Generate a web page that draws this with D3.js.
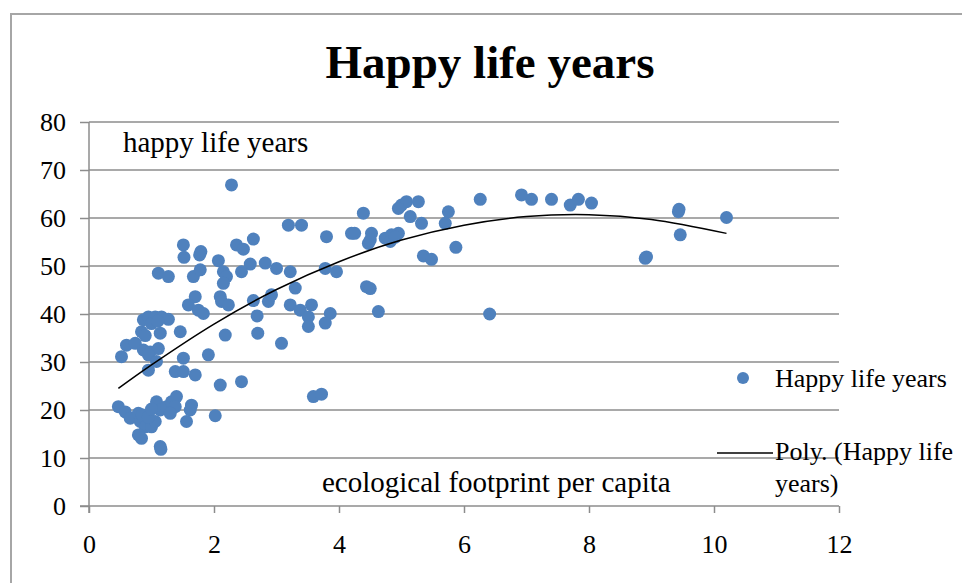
<!DOCTYPE html>
<html><head><meta charset="utf-8">
<script src="https://cdn.jsdelivr.net/npm/d3@7"></script>
<style>html,body{margin:0;padding:0;background:#fff;}svg{display:block;font-family:"Liberation Serif","Times New Roman",serif;}</style>
</head><body><svg id="c" width="962" height="583"></svg>
<script>
const title = "Happy life years";
const seriesName = "Happy life years";
const trendName = ["Poly. (Happy life", "years)"];
const yLabel = "happy life years";
const xLabel = "ecological footprint per capita";
const xTicks = [0, 2, 4, 6, 8, 10, 12];
const yTicks = [0, 10, 20, 30, 40, 50, 60, 70, 80];

// ecological footprint per capita (x) and happy life years (y)
const footprint = [
 0.47,0.58,0.66,0.79,0.82,0.92,1.08,1.14,1.24,1.32,1.40,1.38,1.30,1.64,1.62,1.56,2.02,0.90,1.00,0.79,0.84,1.06,1.14,1.15,2.10,2.44,3.59,3.72,0.85,0.95,1.00,
 0.60,0.74,0.52,0.87,0.98,1.11,0.95,1.08,0.95,1.51,1.38,1.51,1.70,1.91,0.84,1.14,1.46,0.87,0.95,1.06,1.16,1.27,1.00,1.10,0.90,
 1.51,1.52,1.79,1.77,2.36,2.47,2.63,2.07,2.58,1.11,1.27,1.67,1.78,2.15,2.20,2.15,2.44,1.70,1.59,1.75,2.10,2.12,2.23,2.63,2.69,2.18,2.70,1.83,2.28,2.82,2.87,2.92,
 3.19,3.40,3.80,3.00,3.22,3.78,3.96,3.30,3.22,3.38,3.56,3.51,3.51,3.86,3.78,3.08,
 4.39,4.20,4.25,4.52,4.47,4.50,4.44,4.50,4.63,4.74,4.84,4.95,4.82,5.00,5.08,5.27,4.95,5.14,5.75,5.70,5.32,5.35,5.48,5.87,4.90,
 6.26,6.92,7.08,7.40,7.70,7.83,8.04,6.41,8.90,8.92,9.43,9.44,9.46,10.20
];
const happyYears = [
 20.7,19.6,18.3,19.3,17.6,17.9,21.7,20.0,20.7,21.7,22.8,20.7,19.3,21.0,20.0,17.6,18.8,16.5,16.5,14.8,14.1,17.6,12.4,11.8,25.2,25.9,22.8,23.3,19.0,18.5,20.2,
 33.5,33.9,31.1,32.5,32.1,32.8,31.5,30.1,28.3,30.8,28.0,28.0,27.3,31.5,36.3,36.0,36.3,38.8,39.4,39.4,39.4,38.9,38.0,38.5,35.5,
 54.4,51.8,53.0,52.3,54.4,53.5,55.6,51.1,50.4,48.5,47.8,47.8,49.2,48.8,47.8,46.4,48.8,43.6,41.9,40.8,43.6,42.6,41.9,42.8,39.6,35.6,36.0,40.1,66.9,50.6,42.6,44.0,
 58.5,58.5,56.1,49.5,48.8,49.5,48.8,45.4,41.9,40.8,41.9,39.4,37.4,40.1,38.1,33.9,
 61.0,56.8,56.8,56.8,54.7,55.4,45.7,45.3,40.5,55.8,56.5,56.8,55.1,62.7,63.4,63.4,62.0,60.3,61.3,58.9,58.9,52.1,51.4,53.9,56.0,
 63.9,64.8,63.9,63.9,62.7,63.9,63.1,40.0,51.6,51.9,61.3,61.8,56.5,60.1
];
// polynomial trendline
const trendX = [0.47, 1, 2, 3, 4, 5, 6, 7, 8, 9, 10.2];
const trendY = [24.5, 29.4, 37.9, 45.1, 50.9, 55.4, 58.5, 60.3, 60.7, 59.7, 56.8];

const svg = d3.select("#c");
const pLeft = 89, pRight = 839, pTop = 122, pBottom = 506;
const x = d3.scaleLinear().domain([0, 12]).range([pLeft, pRight]);
const y = d3.scaleLinear().domain([0, 80]).range([pBottom, pTop]);
const grey = "#8c8c8c";

// outer frame
svg.append("path").attr("d", "M11,590 L11,14 L970,14").attr("fill", "none")
  .attr("stroke", "#a6a6a6").attr("stroke-width", 2);

// title
svg.append("text").attr("x", 490).attr("y", 78).attr("text-anchor", "middle")
  .attr("font-size", 47).attr("font-weight", "bold").text(title);

// gridlines
svg.append("g").selectAll("line").data(yTicks.filter(d => d > 0)).join("line")
  .attr("x1", pLeft).attr("x2", pRight).attr("y1", d => y(d)).attr("y2", d => y(d))
  .attr("stroke", grey).attr("stroke-width", 1.5);

// y axis
const ya = svg.append("g").attr("transform", `translate(${pLeft},0)`)
  .call(d3.axisLeft(y).tickValues(yTicks).tickSize(9).tickPadding(14));
// x axis
const xa = svg.append("g").attr("transform", `translate(0,${pBottom})`)
  .call(d3.axisBottom(x).tickValues(xTicks).tickSize(7).tickPadding(22));
[ya, xa].forEach(g => {
  g.select(".domain").attr("stroke", grey).attr("stroke-width", 1.5);
  g.selectAll(".tick line").attr("stroke", grey).attr("stroke-width", 1.5);
  g.selectAll(".tick text").attr("font-family", "Liberation Serif, serif")
    .attr("font-size", 26).attr("fill", "#000");
});
ya.select(".domain").attr("d", `M0,${pBottom + 7}V${pTop}`);
xa.select(".domain").attr("d", `M${pLeft - 9},0H${pRight}`);

// points
svg.append("g").selectAll("circle").data(footprint.map((v, i) => [v, happyYears[i]])).join("circle")
  .attr("cx", d => x(d[0])).attr("cy", d => y(d[1])).attr("r", 6.5).attr("fill", "#4f81bd");

// trendline
svg.append("path").datum(trendX.map((v, i) => [v, trendY[i]]))
  .attr("d", d3.line().x(d => x(d[0])).y(d => y(d[1])).curve(d3.curveCatmullRom))
  .attr("fill", "none").attr("stroke", "#000").attr("stroke-width", 1.5);

// in-plot labels
svg.append("text").attr("x", 123).attr("y", 152).attr("font-size", 29).text(yLabel);
svg.append("text").attr("x", 322).attr("y", 492).attr("font-size", 29).text(xLabel);

// legend
svg.append("circle").attr("cx", 743).attr("cy", 378).attr("r", 6).attr("fill", "#4f81bd");
svg.append("text").attr("x", 775).attr("y", 387).attr("font-size", 26).text(seriesName);
svg.append("line").attr("x1", 717).attr("x2", 773).attr("y1", 453).attr("y2", 453)
  .attr("stroke", "#000").attr("stroke-width", 1.5);
svg.append("text").attr("x", 775).attr("y", 460).attr("font-size", 26).text(trendName[0]);
svg.append("text").attr("x", 775).attr("y", 492).attr("font-size", 26).text(trendName[1]);
</script></body></html>
